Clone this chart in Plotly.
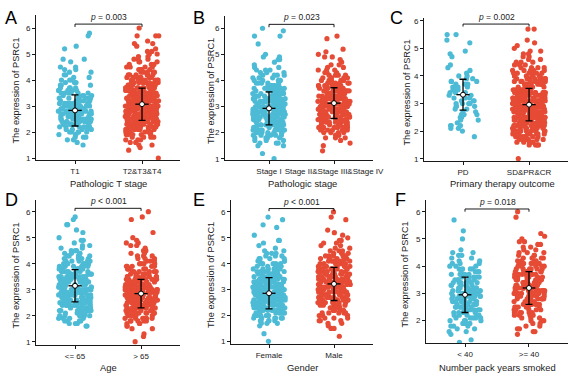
import numpy as np
import plotly.graph_objects as go

# ---------------- data ----------------
# expression values are binned at 0.1 steps; counts of points per bin
bin_values = [1.0, 1.1, 1.2, 1.3, 1.4, 1.5, 1.6, 1.7, 1.8, 1.9,
              2.0, 2.1, 2.2, 2.3, 2.4, 2.5, 2.6, 2.7, 2.8, 2.9,
              3.0, 3.1, 3.2, 3.3, 3.4, 3.5, 3.6, 3.7, 3.8, 3.9,
              4.0, 4.1, 4.2, 4.3, 4.4, 4.5, 4.6, 4.7, 4.8, 4.9,
              5.0, 5.1, 5.2, 5.3, 5.4, 5.5, 5.6, 5.7, 5.8, 5.9, 6.0]

counts_T1 = [0, 0, 0, 0, 0, 1, 1, 2, 3, 3,
             5, 5, 6, 7, 8, 9, 9, 10, 10, 9,
             9, 8, 8, 7, 6, 6, 5, 4, 3, 3,
             3, 2, 2, 2, 2, 2, 0, 1, 2, 0,
             0, 0, 1, 1, 0, 0, 0, 1, 1, 0, 0]
counts_T234 = [1, 0, 0, 1, 1, 2, 2, 3, 4, 5,
               7, 8, 10, 11, 13, 14, 15, 16, 17, 17,
               17, 16, 16, 15, 14, 13, 12, 11, 10, 9,
               8, 7, 6, 5, 5, 4, 3, 3, 3, 2,
               2, 2, 1, 1, 2, 1, 0, 3, 0, 0, 1]
counts_StageI = [1, 0, 1, 0, 0, 2, 3, 3, 4, 6,
                 7, 8, 9, 10, 11, 12, 13, 13, 14, 14,
                 13, 13, 12, 11, 10, 9, 8, 7, 6, 5,
                 5, 4, 4, 3, 3, 2, 1, 1, 2, 2,
                 1, 0, 0, 0, 1, 0, 0, 2, 0, 1, 1]
counts_StageII_IV = [0, 0, 0, 1, 0, 1, 1, 1, 3, 3,
                     4, 5, 6, 7, 8, 9, 10, 11, 11, 12,
                     12, 12, 12, 11, 11, 10, 9, 8, 7, 6,
                     5, 5, 4, 3, 3, 2, 2, 1, 1, 2,
                     1, 1, 1, 0, 0, 0, 1, 1, 0, 0, 0]
counts_PD = [0, 0, 0, 0, 0, 0, 0, 0, 1, 0,
             1, 2, 3, 1, 2, 2, 3, 2, 2, 3,
             4, 3, 3, 3, 3, 3, 4, 3, 3, 2,
             2, 1, 1, 1, 1, 0, 0, 1, 1, 1,
             0, 0, 1, 1, 0, 2, 0, 0, 0, 0, 0]
counts_SDPRCR = [1, 0, 0, 0, 0, 4, 5, 6, 7, 9,
                 10, 12, 13, 14, 16, 17, 18, 19, 19, 19,
                 18, 17, 16, 15, 14, 13, 12, 10, 9, 8,
                 7, 6, 5, 4, 3, 3, 2, 2, 2, 2,
                 1, 1, 1, 1, 0, 0, 0, 2, 0, 0, 0]
counts_Age_le65 = [0, 0, 0, 0, 0, 0, 2, 3, 4, 4,
                   5, 6, 7, 7, 8, 9, 9, 10, 10, 11,
                   11, 11, 11, 11, 10, 10, 9, 9, 8, 7,
                   7, 6, 5, 5, 4, 3, 2, 2, 1, 2,
                   1, 0, 1, 1, 0, 2, 0, 1, 1, 0, 0]
counts_Age_gt65 = [1, 0, 1, 1, 0, 2, 2, 3, 5, 6,
                   7, 9, 10, 11, 12, 13, 14, 14, 14, 14,
                   13, 12, 11, 10, 9, 8, 7, 6, 5, 5,
                   4, 4, 3, 3, 2, 2, 1, 2, 2, 1,
                   1, 0, 1, 0, 0, 0, 0, 1, 1, 0, 1]
counts_Female = [1, 0, 0, 1, 0, 0, 1, 3, 5, 6,
                 8, 9, 10, 11, 12, 13, 14, 14, 15, 15,
                 14, 13, 12, 11, 10, 9, 8, 7, 6, 5,
                 5, 4, 4, 3, 3, 2, 1, 1, 1, 2,
                 0, 1, 0, 0, 1, 1, 0, 1, 1, 0, 0]
counts_Male = [0, 0, 1, 0, 0, 2, 1, 2, 3, 3,
               4, 5, 6, 7, 7, 8, 9, 10, 10, 11,
               11, 11, 11, 11, 10, 10, 9, 9, 8, 7,
               7, 6, 5, 5, 4, 3, 2, 2, 2, 2,
               1, 1, 1, 1, 0, 0, 0, 1, 1, 0, 1]
counts_Pack_lt40 = [0, 0, 1, 1, 0, 1, 2, 2, 3, 3,
                    4, 5, 5, 6, 6, 7, 7, 8, 8, 8,
                    8, 8, 7, 7, 6, 6, 5, 5, 4, 4,
                    3, 3, 2, 2, 2, 2, 1, 0, 0, 0,
                    1, 0, 0, 1, 0, 0, 0, 1, 0, 0, 0]
counts_Pack_ge40 = [0, 0, 0, 0, 0, 1, 2, 2, 2, 2,
                    3, 3, 4, 5, 5, 6, 6, 7, 8, 8,
                    8, 9, 9, 8, 8, 8, 7, 7, 6, 6,
                    5, 5, 4, 4, 3, 3, 2, 2, 2, 2,
                    1, 1, 1, 0, 0, 0, 0, 0, 1, 0, 1]

# mean and sd of each group (read from the crosses)
means_T = [2.83, 3.07]
sds_T = [0.60, 0.62]
means_Stage = [2.93, 3.13]
sds_Stage = [0.63, 0.59]
means_Outcome = [3.32, 2.96]
sds_Outcome = [0.56, 0.59]
means_Age = [3.15, 2.85]
sds_Age = [0.62, 0.55]
means_Gender = [2.86, 3.22]
sds_Gender = [0.60, 0.64]
means_Pack = [2.95, 3.20]
sds_Pack = [0.65, 0.60]

labels_T = ["T1", "T2&T3&T4"]
labels_Stage = ["Stage I", "Stage II&Stage III&Stage IV"]
labels_Outcome = ["PD", "SD&PR&CR"]
labels_Age = ["<= 65", "> 65"]
labels_Gender = ["Female", "Male"]
labels_Pack = ["< 40", ">= 40"]

pvals = ["p = 0.003", "p = 0.023", "p = 0.002", "p < 0.001", "p < 0.001", "p = 0.018"]
xtitles = ["Pathologic T stage", "Pathologic stage", "Primary therapy outcome",
           "Age", "Gender", "Number pack years smoked"]
letters = ["A", "B", "C", "D", "E", "F"]
ytitle = "The expression of PSRC1"

# ---------------- layout (pixels in a 573 x 376 canvas) ----------------
W, H = 573, 376
BLUE = "#4DBBD5"
RED = "#E64B35"
FONT = "Arial, Liberation Sans, sans-serif"

panels = [
    dict(c=(counts_T1, counts_T234), m=means_T, s=sds_T, lab=labels_T,
         box=(36, 180, 15, 160), xr=[0.418, 2.567], yr=[0.923, 6.5], yt=[1, 2, 3, 4, 5, 6],
         let=(3, 6), ytx=15, xt=(108, 183), br=(6.15, 6.04)),
    dict(c=(counts_StageI, counts_StageII_IV), m=means_Stage, s=sds_Stage, lab=labels_Stage,
         box=(225, 373, 16, 160), xr=[0.323, 2.6], yr=[0.95, 6.47], yt=[1, 2, 3, 4, 5, 6],
         let=(191, 6), ytx=211, xt=(303, 183), br=(6.15, 6.04)),
    dict(c=(counts_PD, counts_SDPRCR), m=means_Outcome, s=sds_Outcome, lab=labels_Outcome,
         box=(424, 568, 18, 161), xr=[0.409, 2.59], yr=[0.917, 6.1], yt=[1, 2, 3, 4, 5, 6],
         let=(388, 6), ytx=406, xt=(502, 184), br=(5.88, 5.79)),
    dict(c=(counts_Age_le65, counts_Age_gt65), m=means_Age, s=sds_Age, lab=labels_Age,
         box=(36, 180, 200, 345), xr=[0.409, 2.59], yr=[0.873, 6.45], yt=[1, 2, 3, 4, 5, 6],
         let=(3, 188), ytx=15, xt=(108, 367), br=(6.13, 6.03)),
    dict(c=(counts_Female, counts_Male), m=means_Gender, s=sds_Gender, lab=labels_Gender,
         box=(231, 373, 200, 344), xr=[0.415, 2.6], yr=[0.9, 6.46], yt=[1, 2, 3, 4, 5, 6],
         let=(191, 188), ytx=211, xt=(302, 367), br=(6.13, 6.03)),
    dict(c=(counts_Pack_lt40, counts_Pack_ge40), m=means_Pack, s=sds_Pack, lab=labels_Pack,
         box=(426, 568, 200, 343), xr=[0.39, 2.61], yr=[1.18, 6.43], yt=[2, 3, 4, 5, 6],
         let=(393, 188), ytx=404, xt=(497, 367), br=(6.10, 6.00)),
]


def jitter(n, half, seed):
    # deterministic scatter of horizontal offsets (like geom_jitter), not data
    k = np.arange(n) + seed * 1000 + 1
    u = (np.sin(k * 12.9898 + 78.233) * 43758.5453) % 1.0
    return (u - 0.5) * 2 * half


fig = go.Figure()
layout = dict(template="none", width=W, height=H, margin=dict(l=0, r=0, t=0, b=0, pad=0),
              paper_bgcolor="white", plot_bgcolor="white", showlegend=False,
              font=dict(family=FONT, color="#222"))
annotations = []
shapes = []

for i, p in enumerate(panels):
    n = i + 1
    xa = "x" if n == 1 else f"x{n}"
    ya = "y" if n == 1 else f"y{n}"
    L, R, T, B = p["box"]
    layout["xaxis" if n == 1 else f"xaxis{n}"] = dict(
        domain=[L / W, R / W], range=p["xr"], anchor=ya, automargin=False,
        tickvals=[1, 2], ticktext=p["lab"], tickangle=0, showline=True, linecolor="black",
        linewidth=0.9, ticks="outside", ticklen=3, tickwidth=0.9, tickcolor="black",
        tickfont=dict(size=8, color="#222"), showgrid=False, zeroline=False, fixedrange=True)
    layout["yaxis" if n == 1 else f"yaxis{n}"] = dict(
        domain=[1 - B / H, 1 - T / H], range=p["yr"], anchor=xa, automargin=False,
        tickvals=p["yt"], showline=True, linecolor="black",
        linewidth=0.9, ticks="outside", ticklen=3, tickwidth=0.9, tickcolor="black",
        tickfont=dict(size=8, color="#222"), showgrid=False, zeroline=False, fixedrange=True)

    half = 0.25
    for g, (cnt, col) in enumerate(zip(p["c"], [BLUE, RED])):
        yv = np.repeat(np.array(bin_values), np.array(cnt))
        xv = (g + 1) + jitter(len(yv), half, 2 * i + g)
        fig.add_trace(go.Scatter(x=xv, y=yv, mode="markers", xaxis=xa, yaxis=ya,
                                 marker=dict(size=5.2, color=col, line=dict(width=0)),
                                 hoverinfo="skip"))
    fig.add_trace(go.Scatter(
        x=[1, 2], y=p["m"], mode="markers", xaxis=xa, yaxis=ya,
        marker=dict(size=5, color="white", line=dict(color="black", width=1)),
        error_y=dict(type="data", array=p["s"], visible=True, color="black", thickness=1.3, width=3.5),
        error_x=dict(type="data", array=[0.1, 0.1], visible=True, color="black", thickness=1.3, width=0),
        hoverinfo="skip"))

    y1, y0 = p["br"]
    shapes.append(dict(type="path", xref=xa, yref=ya,
                       path=f"M 1,{y0} L 1,{y1} L 2,{y1} L 2,{y0}",
                       line=dict(color="black", width=0.9)))
    ptxt = "<i>p</i>" + pvals[i][1:].replace("<", "&lt;")
    annotations.append(dict(x=1.5, y=y1, xref=xa, yref=ya, text=ptxt, showarrow=False,
                            yanchor="bottom", yshift=0, font=dict(size=8.5, color="#222")))
    lx, ly = p["let"]
    annotations.append(dict(x=lx / W, y=1 - ly / H, xref="paper", yref="paper", text=letters[i],
                            showarrow=False, xanchor="left", yanchor="top",
                            font=dict(size=18, color="black")))
    annotations.append(dict(x=p["ytx"] / W, y=1 - ((T + B) / 2 + 3) / H, xref="paper", yref="paper",
                            text=ytitle, textangle=-90, showarrow=False,
                            xanchor="center", yanchor="middle", font=dict(size=9.2, color="#222")))
    xtx, xty = p["xt"]
    annotations.append(dict(x=xtx / W, y=1 - xty / H, xref="paper", yref="paper",
                            text=xtitles[i], showarrow=False,
                            xanchor="center", yanchor="middle", font=dict(size=9.4, color="#222")))

layout["annotations"] = annotations
layout["shapes"] = shapes
fig.update_layout(**layout)
fig.write_html("out.html", config={"displayModeBar": False, "staticPlot": True},
               post_script="document.body.style.margin='0px';document.body.style.padding='0px';")
